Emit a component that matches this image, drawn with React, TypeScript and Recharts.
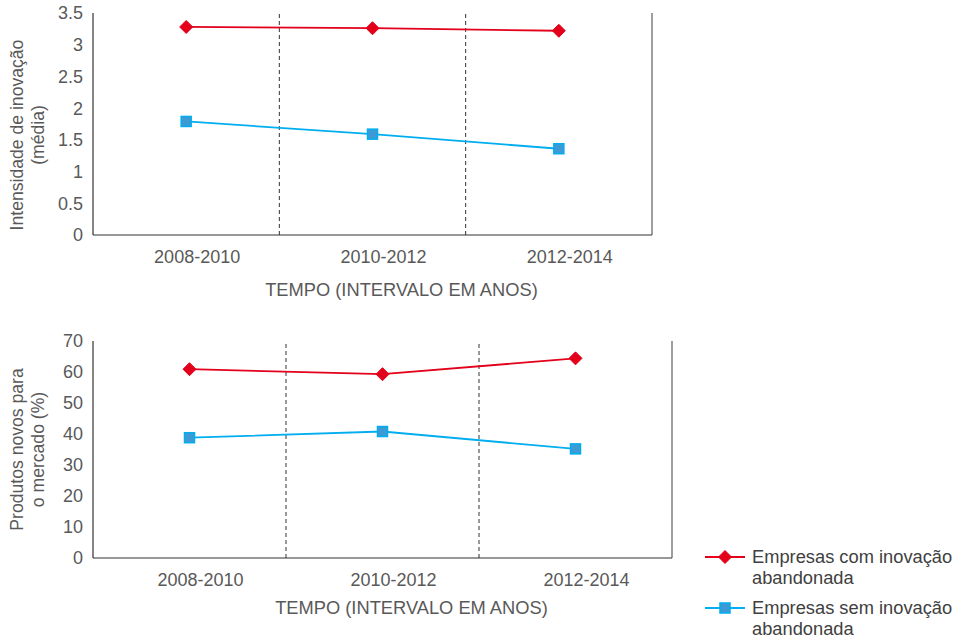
import React from 'react';
import { LineChart, Line, XAxis, YAxis, ReferenceLine, Label } from 'recharts';

const periods = ['2008-2010', '2010-2012', '2012-2014'];
const intensityWith = [3.28, 3.26, 3.22];
const intensityWithout = [1.79, 1.59, 1.36];
const newProductsWith = [60.9, 59.3, 64.4];
const newProductsWithout = [38.8, 40.8, 35.2];
const intensityTicks = [0, 0.5, 1, 1.5, 2, 2.5, 3, 3.5];
const productTicks = [0, 10, 20, 30, 40, 50, 60, 70];

const seriesNames = ['Empresas com inovação abandonada', 'Empresas sem inovação abandonada'];

const RED = '#e2001a';
const BLUE = '#00aeef';
const SQUARE_FILL = '#3d9ad4';
const TEXT = '#595959';
const FONT = '"Liberation Sans", Arial, sans-serif';

const buildRows = (a: number[], b: number[]) =>
  periods.map((p, i) => ({ x: i + 0.5, period: p, withAb: a[i], withoutAb: b[i] }));

const Diamond = (props: any) => {
  const { cx, cy } = props;
  if (cx == null || cy == null) return null;
  const r = 6.5;
  return <polygon points={`${cx},${cy - r} ${cx + r},${cy} ${cx},${cy + r} ${cx - r},${cy}`} fill={RED} stroke={RED} strokeWidth={1} />;
};

const Square = (props: any) => {
  const { cx, cy } = props;
  if (cx == null || cy == null) return null;
  const s = 10;
  return <rect x={cx - s / 2} y={cy - s / 2} width={s} height={s} fill={SQUARE_FILL} stroke={BLUE} strokeWidth={1.5} />;
};

// two-line rotated axis title; cx is the baseline of the first line
const yLabel = (lines: string[], cx: number, dy: number) => (props: any) => {
  const vb = props.viewBox || {};
  const cy = vb.y + vb.height / 2 + dy;
  return (
    <text transform={`rotate(-90 ${cx} ${cy})`} x={cx} y={cy} textAnchor="middle" fill={TEXT} fontSize={17.6} fontFamily={FONT}>
      <tspan x={cx} dy={0}>{lines[0]}</tspan>
      <tspan x={cx} dy={21}>{lines[1]}</tspan>
    </text>
  );
};

const xLabel = (dx: number, baseline: number) => (props: any) => {
  const vb = props.viewBox || {};
  return (
    <text x={vb.x + vb.width / 2 + dx} y={vb.y + baseline} textAnchor="middle" fill={TEXT} fontSize={18.3} fontFamily={FONT}>
      TEMPO (INTERVALO EM ANOS)
    </text>
  );
};

interface PanelProps {
  rows: any[];
  width: number;
  height: number;
  margin: any;
  xHeight: number;
  domain: number[];
  ticks: number[];
  yLines: string[];
  yLabelDy: number;
  xLabelDx: number;
  xLabelBaseline: number;
}

const Panel = ({ rows, width, height, margin, xHeight, domain, ticks, yLines, yLabelDy, xLabelDx, xLabelBaseline }: PanelProps) => (
  <LineChart width={width} height={height} data={rows} margin={margin}>
    <XAxis
      type="number"
      dataKey="x"
      domain={[0, 3]}
      ticks={[0.5, 1.5, 2.5]}
      tickFormatter={(v: number) => periods[Math.floor(v)]}
      height={xHeight}
      tickLine={false}
      tickSize={0}
      tickMargin={15}
      axisLine={{ stroke: '#333333', strokeWidth: 1.2 }}
      tick={{ fill: TEXT, fontSize: 18, fontFamily: FONT, dx: 11 }}
    >
      <Label content={xLabel(xLabelDx, xLabelBaseline)} />
    </XAxis>
    <YAxis
      type="number"
      domain={domain}
      ticks={ticks}
      width={93}
      interval={0}
      tickLine={false}
      tickSize={0}
      tickMargin={10}
      axisLine={{ stroke: '#333333', strokeWidth: 1.2 }}
      tick={{ fill: TEXT, fontSize: 18, fontFamily: FONT }}
    >
      <Label content={yLabel(yLines, 23, yLabelDy)} />
    </YAxis>
    <ReferenceLine x={1} stroke="#333333" strokeDasharray="4 3" strokeWidth={1} />
    <ReferenceLine x={2} stroke="#333333" strokeDasharray="4 3" strokeWidth={1} />
    <ReferenceLine x={3} stroke="#7f7f7f" strokeWidth={1.5} />
    <Line dataKey="withAb" name={seriesNames[0]} stroke={RED} strokeWidth={1.8} dot={<Diamond />} isAnimationActive={false} />
    <Line dataKey="withoutAb" name={seriesNames[1]} stroke={BLUE} strokeWidth={1.8} dot={<Square />} isAnimationActive={false} />
  </LineChart>
);

const LegendItem = ({ label, marker }: { label: string; marker: 'diamond' | 'square' }) => {
  const words = label.split(' ');
  const first = words.slice(0, 3).join(' ');
  const second = words.slice(3).join(' ');
  return (
    <div style={{ display: 'flex', alignItems: 'flex-start', marginBottom: 9 }}>
      <svg width={46} height={22} style={{ flex: 'none' }}>
        <line x1={3} y1={11} x2={43} y2={11} stroke={marker === 'diamond' ? RED : BLUE} strokeWidth={1.8} />
        {marker === 'diamond' ? <Diamond cx={23} cy={11} /> : <Square cx={23} cy={11} />}
      </svg>
      <div style={{ fontFamily: FONT, fontSize: 18.3, lineHeight: '21px', color: '#404040', marginLeft: 4 }}>
        {first}
        <br />
        {second}
      </div>
    </div>
  );
};

export default function App() {
  return (
    <div style={{ position: 'absolute', left: 0, top: 0, width: 968, height: 638, background: '#fff', overflow: 'hidden' }}>
      <div style={{ position: 'absolute', left: 0, top: 0 }}>
        <Panel
          rows={buildRows(intensityWith, intensityWithout)}
          width={700}
          height={310}
          margin={{ top: 13, right: 48, bottom: 0, left: 0 }}
          xHeight={75}
          domain={[0, 3.5]}
          ticks={intensityTicks}
          yLines={['Intensidade de inovação', '(média)']}
          yLabelDy={11}
          xLabelDx={29}
          xLabelBaseline={61}
        />
      </div>
      <div style={{ position: 'absolute', left: 0, top: 320 }}>
        <Panel
          rows={buildRows(newProductsWith, newProductsWithout)}
          width={720}
          height={318}
          margin={{ top: 21, right: 48, bottom: 0, left: 0 }}
          xHeight={80}
          domain={[0, 70]}
          ticks={productTicks}
          yLines={['Produtos novos para', 'o mercado (%)']}
          yLabelDy={0}
          xLabelDx={29}
          xLabelBaseline={56}
        />
      </div>
      <div style={{ position: 'absolute', left: 702, top: 546 }}>
        <LegendItem label={seriesNames[0]} marker="diamond" />
        <LegendItem label={seriesNames[1]} marker="square" />
      </div>
    </div>
  );
}
